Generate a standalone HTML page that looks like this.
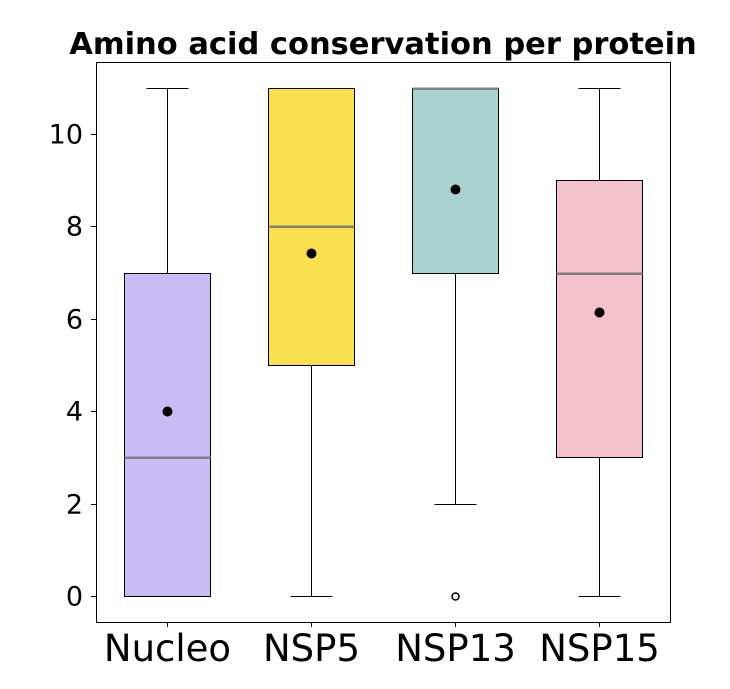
<!DOCTYPE html>
<html><head><meta charset="utf-8"><style>
body{margin:0;background:#fff;width:730px;height:684px;overflow:hidden}
text{font-family:"DejaVu Sans","Liberation Sans",sans-serif}
</style></head><body>
<svg id="chart" width="730" height="684" xmlns="http://www.w3.org/2000/svg" shape-rendering="crispEdges"></svg>
<script>
const categories = ["Nucleo","NSP5","NSP13","NSP15"];
const whiskerLow = [0,0,2,0];
const q1Values = [0,5,7,3];
const medianValues = [3,8,11,7];
const q3Values = [7,11,11,9];
const whiskerHigh = [11,11,11,11];
const meanValues = [4.0,7.42,8.82,6.14];
const outlierValues = [[],[],[0],[]];
const boxColors = ["#c9bcf5","#f9e04f","#aad3d0","#f4c2cc"];
const yTicks = [0,2,4,6,8,10];

const svg = document.getElementById('chart');
const NS = "http://www.w3.org/2000/svg";
const L=96,R=670,T=62,B=622;
const y0px=596, pxPerUnit=46.2;
function y(v){return Math.round(y0px - v*pxPerUnit)+0.5;}
function x(i){return 167 + i*144 + 0.5;}
const halfW=43;
function mk(tag,attrs,parent){const e=document.createElementNS(NS,tag);for(const k in attrs)e.setAttribute(k,attrs[k]);(parent||svg).appendChild(e);return e;}

const title = mk('text',{x:383,y:54,'text-anchor':'middle','font-size':30.5,'font-weight':'bold',fill:'#000'});
title.textContent="Amino acid conservation per protein";



const frame = mk('rect',{x:L+0.5,y:T+0.5,width:R-L,height:B-T,fill:'none',stroke:'#000','stroke-width':1});



yTicks.forEach(t=>{
  const tk=mk('line',{x1:L-5,x2:L,y1:y(t),y2:y(t),stroke:'#000'});
  
  
  const lb=mk('text',{x:L-13,y:y(t)+9,'text-anchor':'end','font-size':27,fill:'#000'});
  lb.textContent=t;
  
  
});

categories.forEach((c,i)=>{
  const cx=x(i);
  const g=mk('g',{});
  
  
  if(whiskerHigh[i]>q3Values[i]){
    mk('line',{x1:cx,x2:cx,y1:y(q3Values[i]),y2:y(whiskerHigh[i]),stroke:'#000'},g);
  }
  mk('line',{x1:cx-21,x2:cx+21,y1:y(whiskerHigh[i]),y2:y(whiskerHigh[i]),stroke:'#000'},g);
  if(whiskerLow[i]<q1Values[i]){
    mk('line',{x1:cx,x2:cx,y1:y(q1Values[i]),y2:y(whiskerLow[i]),stroke:'#000'},g);
  }
  mk('line',{x1:cx-21,x2:cx+21,y1:y(whiskerLow[i]),y2:y(whiskerLow[i]),stroke:'#000'},g);
  mk('rect',{x:cx-halfW,y:y(q3Values[i]),width:halfW*2,height:y(q1Values[i])-y(q3Values[i]),fill:boxColors[i],stroke:'#000','stroke-width':1},g);
  mk('line',{x1:cx-halfW,x2:cx+halfW,y1:y(medianValues[i]),y2:y(medianValues[i]),stroke:'#808080','stroke-width':2.5},g);
  const m=mk('circle',{cx:cx,cy:y(meanValues[i]),r:5,fill:'#000','shape-rendering':'auto'},g);
  
  
  outlierValues[i].forEach(v=>{
    const o=mk('circle',{cx:cx,cy:y(v),r:3.5,fill:'none',stroke:'#000','stroke-width':1.5,'shape-rendering':'auto'},g);
    
    
  });
  const tk=mk('line',{x1:cx,x2:cx,y1:B,y2:B+5,stroke:'#000'});
  
  
  const lb=mk('text',{x:cx,y:661,'text-anchor':'middle','font-size':37,fill:'#000'});
  lb.textContent=c;
  
  
});
</script>
</body></html>
